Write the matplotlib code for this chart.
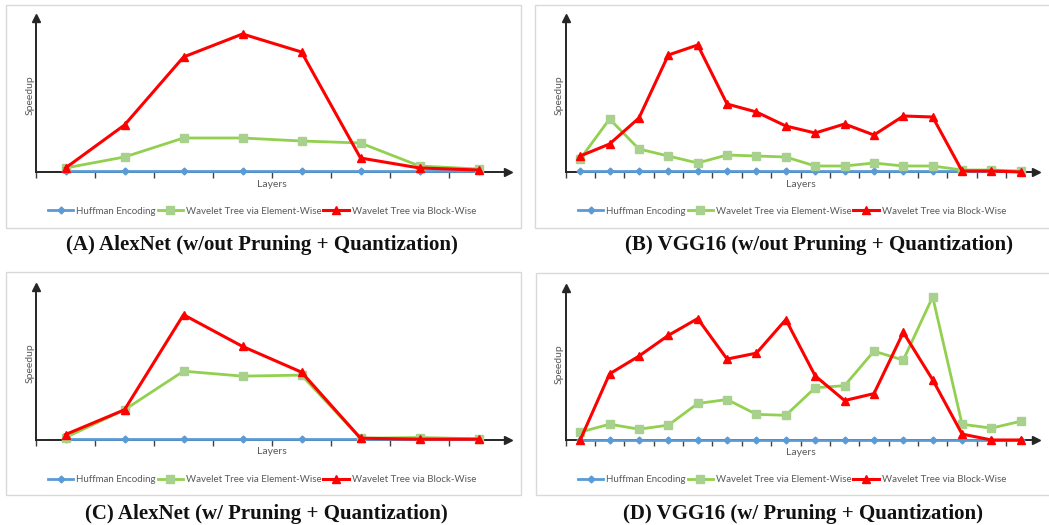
import numpy as np
import matplotlib
matplotlib.use('Agg')
import matplotlib.pyplot as plt
from matplotlib.patches import Rectangle
from matplotlib.lines import Line2D

W, H = 1049, 525

# Valores (unidades arbitrarias de speedup, eje sin escala)
alex_layers = list(range(1, 9))
vgg_layers = list(range(1, 17))

a_huff = [1, 1, 1, 1, 1, 1, 1, 1]
a_elem = [4, 15, 34, 34, 31, 29, 6, 3]
a_block = [4, 47, 115, 138, 120, 14, 4, 2]

b_huff = [1] * 16
b_elem = [13, 53, 23, 16, 9, 17, 16, 15, 6, 6, 9, 6, 6, 2, 2, 1]
b_block = [16, 28, 54, 117, 127, 68, 60, 46, 39, 48, 37, 56, 55, 1, 1, 0]

c_huff = [0.5] * 8
c_elem = [2, 30, 69, 64, 65, 1.3, 2, 0.7]
c_block = [5, 30, 126, 94, 68, 1.3, 0.3, 0.3]

d_huff = [0.5] * 16
d_elem = [8, 16, 11, 15, 37, 41, 26, 25, 53, 55, 90, 81, 145, 16, 12, 19]
d_block = [0, 67, 85, 106, 123, 82, 88, 122, 65, 40, 47, 109, 61, 6, 0, 0]

titles = ['(A) AlexNet (w/out Pruning + Quantization)',
          '(B) VGG16 (w/out Pruning + Quantization)',
          '(C) AlexNet (w/ Pruning + Quantization)',
          '(D) VGG16 (w/ Pruning + Quantization)']
labels = ['Huffman Encoding', 'Wavelet Tree via Element-Wise',
          'Wavelet Tree via Block-Wise']

BLUE, GREEN, GREEN_M, RED = '#5B9BD5', '#92D050', '#A9D18E', '#FF0000'
GRAY = '#595959'
SANS = ['Lato', 'DejaVu Sans']

fig = plt.figure(figsize=(W / 100, H / 100), dpi=100)


def px_rect(l, t, r, b):
    return [l / W, 1 - b / H, (r - l) / W, (b - t) / H]


def panel(frame, axbox, layers, huff, elem, block, title, title_xy, leg_xy):
    fl, ft, fr, fb = frame
    fig.patches.append(Rectangle((fl / W, 1 - fb / H), (fr - fl) / W, (fb - ft) / H,
                                 transform=fig.transFigure, fill=False,
                                 edgecolor='#D9D9D9', lw=1.0))
    ax = fig.add_axes(px_rect(*axbox))
    ax.plot(layers, huff, color=BLUE, lw=2, marker='D', ms=3.5, clip_on=False, zorder=3)
    ax.plot(layers, elem, color=GREEN, lw=2, marker='s', ms=5.5,
            mfc=GREEN_M, mec=GREEN_M, clip_on=False, zorder=4)
    ax.plot(layers, block, color=RED, lw=2.2, marker='^', ms=6, clip_on=False, zorder=5)
    n = len(layers)
    ax.set_xlim(0.5, n + 0.5)
    ax.set_ylim(0, 154)
    ax.set_xticks(np.arange(0.5, n + 0.01, 1.0))
    ax.set_xticklabels([])
    ax.set_yticks([])
    ax.tick_params(axis='x', direction='out', length=4, width=1, color='#404040')
    for s in ['top', 'right']:
        ax.spines[s].set_visible(False)
    for s in ['left', 'bottom']:
        ax.spines[s].set_color('#262626')
        ax.spines[s].set_linewidth(1.4)
    ax.plot(1, 0, '>', color='#262626', ms=5.5, transform=ax.transAxes, clip_on=False)
    ax.plot(0, 1, '^', color='#262626', ms=5.5, transform=ax.transAxes, clip_on=False)
    ax.set_xlabel('Layers', fontsize=7.5, color=GRAY, labelpad=-2, family=SANS)
    ax.set_ylabel('Speedup', fontsize=7.5, color=GRAY, labelpad=1, family=SANS)
    ax.patch.set_alpha(0)

    handles = [Line2D([], [], color=BLUE, lw=2, marker='D', ms=3.5),
               Line2D([], [], color=GREEN, lw=2, marker='s', ms=5.5, mfc=GREEN_M, mec=GREEN_M),
               Line2D([], [], color=RED, lw=2.2, marker='^', ms=6)]
    leg = fig.legend(handles, labels, loc='center', ncol=3, frameon=False,
                     bbox_to_anchor=(leg_xy[0] / W, 1 - leg_xy[1] / H),
                     prop={'family': SANS, 'size': 7}, handlelength=2.6,
                     handletextpad=0.3, columnspacing=0.2, borderaxespad=0)
    for t in leg.get_texts():
        t.set_color(GRAY)

    fig.text(title_xy[0] / W, 1 - title_xy[1] / H, title, ha='center', va='center',
             fontsize=15, fontweight='bold', family='Liberation Serif', color='#111111')


panel((6, 5, 521, 228), (36, 18, 508, 172), alex_layers, a_huff, a_elem, a_block,
      titles[0], (262, 245), (262, 211))
panel((535, 5, 1052, 228), (565.5, 18, 1035.5, 172), vgg_layers, b_huff, b_elem, b_block,
      titles[1], (819, 245), (792, 211))
panel((6, 272, 521, 495), (36, 287, 508, 439.5), alex_layers, c_huff, c_elem, c_block,
      titles[2], (266, 514), (262, 480))
panel((536, 273, 1052, 495), (565.5, 288, 1035.5, 440), vgg_layers, d_huff, d_elem, d_block,
      titles[3], (803, 514), (792, 480))

fig.savefig('out.png', dpi=100)
